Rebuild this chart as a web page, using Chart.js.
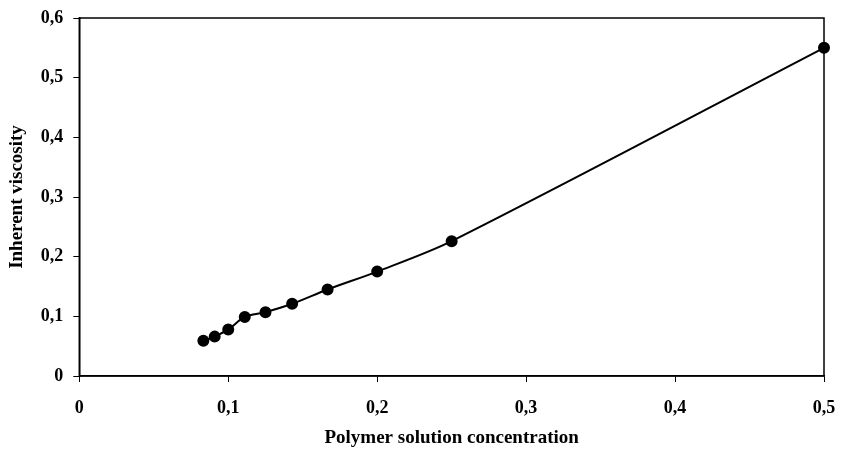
<!DOCTYPE html>
<html>
<head>
<meta charset="utf-8">
<script src="https://cdn.jsdelivr.net/npm/chart.js@4/dist/chart.umd.min.js"></script>
<style>
  html, body { margin: 0; padding: 0; background: #fff; }
</style>
</head>
<body>
<canvas id="chart" width="841" height="450"></canvas>
<script>
// data (concentration ~ 1/n)
const concentration = [0.0833, 0.0909, 0.1, 0.1111, 0.125, 0.1429, 0.1667, 0.2, 0.25, 0.5];
const viscosity = [0.059, 0.066, 0.078, 0.099, 0.107, 0.121, 0.145, 0.175, 0.226, 0.550];
const xTitle = 'Polymer solution concentration';
const yTitle = 'Inherent viscosity';

const points = concentration.map((c, i) => ({ x: c, y: viscosity[i] }));

// comma decimal labels, like the original
function commaLabel(v) {
  if (Math.abs(v) < 1e-9) return '0';
  return v.toFixed(1).replace('.', ',');
}

// frame around the plot area
const boxPlugin = {
  id: 'box',
  afterDraw(chart) {
    const a = chart.chartArea, c = chart.ctx;
    c.save();
    c.strokeStyle = '#000';
    c.lineWidth = 1.5;
    c.strokeRect(a.left, a.top, a.right - a.left, a.bottom - a.top);
    c.restore();
  }
};

const serif = '"Liberation Serif", "Times New Roman", serif';
const tickFont = { family: serif, weight: 'bold', size: 18 };
const titleFont = { family: serif, weight: 'bold', size: 19 };

new Chart(document.getElementById('chart'), {
  type: 'scatter',
  data: {
    datasets: [{
      data: points,
      showLine: true,
      borderColor: '#000',
      borderWidth: 2,
      backgroundColor: '#000',
      pointRadius: 5,
      pointHoverRadius: 5,
      tension: 0.3,
      clip: false
    }]
  },
  options: {
    responsive: false,
    animation: false,
    layout: { padding: { top: 0, right: 0, bottom: 0, left: 0 } },
    plugins: { legend: { display: false }, tooltip: { enabled: false } },
    scales: {
      x: {
        type: 'linear', min: 0, max: 0.5,
        grid: { drawOnChartArea: false, color: '#000', tickLength: 6 },
        border: { color: '#000', width: 1.5 },
        ticks: { stepSize: 0.1, color: '#000', font: tickFont, padding: 16, callback: commaLabel },
        // title sits close under the tick labels in the original
        title: { display: true, text: xTitle, color: '#000', font: titleFont, padding: { top: -9, bottom: 0.6 } },
        afterFit: (s) => { s.paddingRight = 17; }
      },
      y: {
        min: 0, max: 0.6,
        grid: { drawOnChartArea: false, color: '#000', tickLength: 6 },
        border: { color: '#000', width: 1.5 },
        ticks: { stepSize: 0.1, color: '#000', font: tickFont, padding: 10, callback: commaLabel },
        title: { display: true, text: yTitle, color: '#000', font: titleFont, padding: { top: 6, bottom: 2 } },
        afterFit: (s) => { s.paddingTop = 18; }
      }
    }
  },
  plugins: [boxPlugin]
});
</script>
</body>
</html>
